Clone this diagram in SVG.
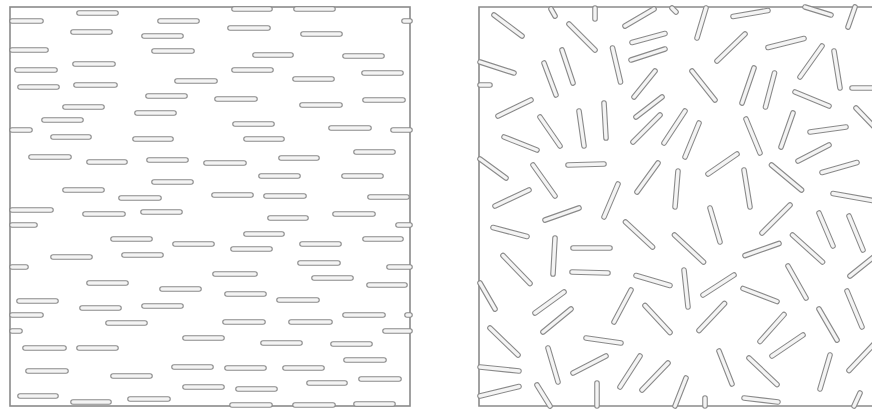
<svg xmlns="http://www.w3.org/2000/svg" xmlns:xlink="http://www.w3.org/1999/xlink" width="872" height="410" viewBox="0 0 872 410">
<style>
.frame{fill:none;stroke:#8a8a8a;stroke-width:1.6}
.fo{fill:none;stroke:#8a8a8a;stroke-width:5.6;stroke-linecap:round}
.fi{fill:none;stroke:#f4f4f4;stroke-width:3.4;stroke-linecap:round}
</style>
<defs>
<path id="lf" d="M79 13H116M12 21H41M160 21H197M73 32H110M144 36H181M12 50H46M154 51H192M75 64H113M17 70H55M177 81H215M20 87H57M76 85H115M148 96H185M217 99H255M65 107H102M137 113H174M44 120H81M12 130H30M53 137H89M135 139H171M234 9H270M296 9H333M404 21H410M230 28H268M303 34H340M255 55H291M345 56H382M234 70H271M364 73H401M295 79H332M302 105H340M365 100H403M235 124H272M331 128H369M393 130H410M246 139H282M31 157H69M89 162H125M149 160H186M206 163H244M154 182H191M65 190H102M121 198H159M214 195H251M12 210H51M85 214H123M143 212H180M12 225H35M113 239H150M175 244H212M53 257H90M124 255H161M12 267H26M356 152H393M281 158H317M261 176H298M344 176H381M266 196H304M370 197H407M335 214H373M270 218H306M398 225H410M246 234H282M365 239H401M233 249H270M302 244H339M300 263H338M389 267H410M89 283H126M162 289H199M215 274H255M19 301H56M82 308H119M144 306H181M12 315H41M108 323H145M12 331H20M185 338H222M25 348H64M79 348H116M174 367H211M28 371H66M113 376H150M185 387H222M20 396H56M73 402H109M130 399H168M314 278H351M369 285H405M227 294H264M279 300H317M345 315H383M407 315H410M225 322H263M291 322H330M385 331H410M263 343H300M333 344H370M346 360H384M227 368H264M285 368H322M361 379H399M309 383H345M238 389H275M356 404H393M232 405H270M295 405H333"/>
<path id="rf" d="M494 15L522 36M551 9L555 16M595 8V19M625 26L654 9M672 8L676 12M569 24L595 50M632 42.5L665 33.5M631 60L665 49M612.5 48L620.5 82M562 50L573 83M544 63L556 95M480 62L514 73M480 85H490M634 97L655 71M498 116L531 100M636 117L662 97M604 103L606 138M579 111L584 146M540 117L560 146M660 115L633 142M504 137L537 150M480 159L506 178M533 165L555 196M568 165L604 164M637 192L658 163M675 207L678 171M495 206L529 190M545 220L579 208M604 217L618 184M493 227.5L527 236.5M625.5 222L652.5 247M555 238L553 274M573 248H610M572 272L608 273M503 255.5L530 283.5M636 275.5L670 285.5M480 283L495 309M535 313L564 292M543 332L571 309M614 322L631 290M645 305.5L670 332.5M490 328L518 355M586 338L621 343M548 348L558 382M573 373L606 356M480 367L519 371M480 396L519 386.5M537 385L550 406M597 383V406M620 387L640 356M642 390L668 363M706 8L697 38M733 16.5L768 10.5M805 7L831 15M855 7L848 27M717 61L745 34M768 47.5L804 38.5M800 77L822 46M834 51L840 88M852 88H875M692 71L715 100M754 68L742 103M774.5 73L765.5 107M795 92L829 106M856 108L880 133M685 111L664 143M699 123L685 157M746 119L760 153M793 113L781 147M810 132L846 127M708 174L737 154M798 161L829 145M822 172.5L857 162.5M744 170L750 207M771.5 165L801.5 190M833 193.5L875 201M762 233L790 205M710 208L720 242M819 213L833 246M849 216L863 250M674.5 235L703.5 262M745 255.5L779 243.5M792.5 235L822.5 262M684 270L688 307M703 295L734 275M743 288.5L777 301.5M788 266L806 298M875 256L850 276M699 330.5L724.5 303.5M819 309L837 340M847 291L862 327M760 341.5L784 314.5M772 356L803 335M719 351L732 384M749 358L777 384.5M830 355L820 389M849 370.5L875 343M686 378L675 406M705 398V406M744 398L778 402M860 393L854 406"/>
</defs>
<g id="aligned-panel">
<rect class="frame" x="10" y="7" width="400" height="399"/>
<use xlink:href="#lf" class="fo"/>
<use xlink:href="#lf" class="fi"/>
</g>
<g id="random-panel">
<path class="frame" d="M876 7H479V406H876"/>
<use xlink:href="#rf" class="fo"/>
<use xlink:href="#rf" class="fi"/>
</g>
</svg>
